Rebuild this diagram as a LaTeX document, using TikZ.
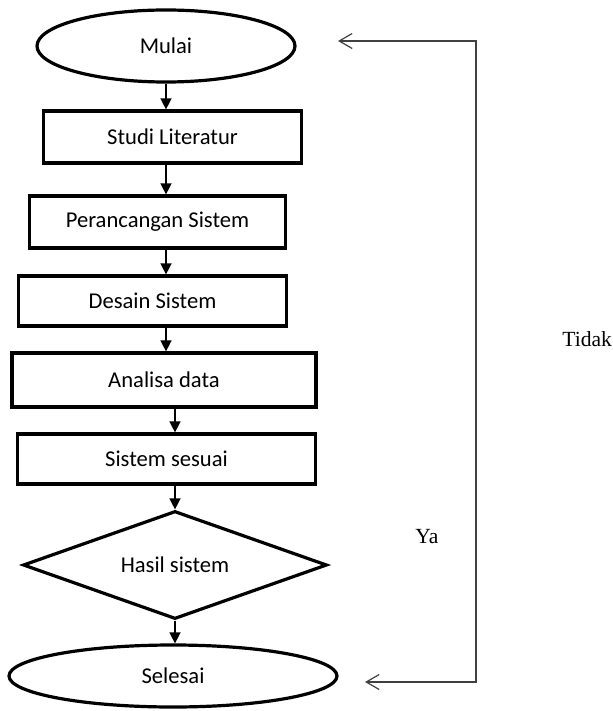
\documentclass[tikz,border=0pt]{standalone}
\usepackage{fontspec}
\setmainfont{Carlito}
\newfontfamily\timesfont{Liberation Serif}
\usetikzlibrary{shapes.geometric,arrows.meta}
\tikzstyle{proses} = [
    draw,
    rectangle,
    line width=1.6pt,
    inner sep=0pt]
\tikzstyle{terminal} = [
    draw,
    ellipse,
    line width=1.6pt,
    inner sep=0pt]
\tikzstyle{keputusan} = [
    draw,
    diamond,
    aspect=2.8,
    line width=1.6pt,
    inner sep=0pt]
\tikzstyle{alir} = [-{Triangle[length=5.5pt,width=5.5pt]}, line width=0.7pt]
\tikzstyle{balik} = [{Straight Barb[length=6.5pt,width=7.5pt]}-{Straight Barb[length=6.5pt,width=7.5pt]},
    line width=0.6pt, black!75]
\def\teks{\fontsize{11.3}{13.5}\selectfont}
\def\ket{\timesfont\fontsize{10.8}{13}\selectfont}

\begin{document}
\begin{tikzpicture}[x=0.5pt,y=-0.5pt]
        \useasboundingbox (0,0) rectangle (612,711);

        \node[terminal, minimum width=129pt, minimum height=36pt] (M) at (166,46) {\teks Mulai};
        \node[proses, minimum width=129pt, minimum height=26pt] (L) at (172.5,137) {\teks Studi Literatur};
        \node[proses, minimum width=128pt, minimum height=26pt] (P) at (157.5,222) {\teks Perancangan Sistem};
        \node[proses, minimum width=134pt, minimum height=25pt] (D) at (152.5,301) {\teks Desain Sistem};
        \node[proses, minimum width=152pt, minimum height=27pt] (A) at (164,380) {\teks Analisa data};
        \node[proses, minimum width=149pt, minimum height=25pt] (S) at (166.5,459) {\teks Sistem sesuai};
        \node[keputusan, minimum width=152pt, minimum height=54pt] (H) at (175,565) {\teks Hasil sistem};
        \node[terminal, minimum width=164pt, minimum height=31pt] (E) at (173,676) {\teks Selesai};

        \path[alir]
            (M.south) edge (M |- L.north)
            (L.south -| M) edge (P.north -| M)
            (P.south -| M) edge (D.north -| M)
            (D.south -| M) edge (A.north -| M)
            (A.south -| H) edge (S.north -| H)
            (S.south -| H) edge (H.north)
            (H.south) edge (H |- E.north);

        % jalur kembali
        \coordinate (tA) at (338,41);
        \coordinate (kA) at (476,41);
        \coordinate (kB) at (476,682);
        \coordinate (tB) at (365,682);
        \draw[balik] (tA) -- (kA) -- (kB) -- (tB);

        \node[anchor=west, inner sep=0pt] (tidak) at (562,339) {\ket Tidak};
        \node[anchor=west, inner sep=0pt] (ya) at (415,537) {\ket Ya};
    \end{tikzpicture}
\end{document}
